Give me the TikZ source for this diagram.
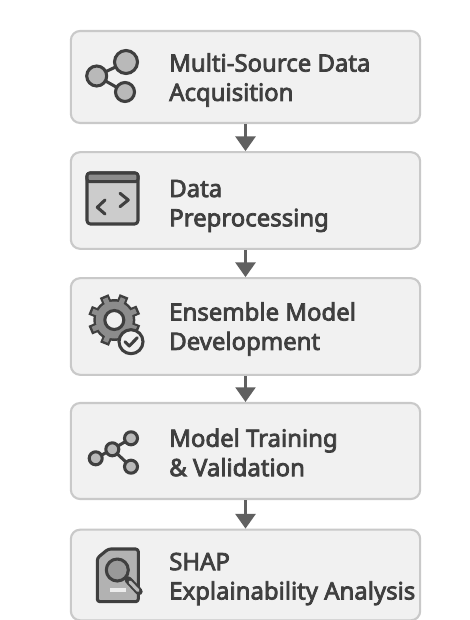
\documentclass[tikz,border=0pt]{standalone}
\usepackage{fontspec}
\setmainfont{Noto Sans}
\newfontfamily\lbl[FakeBold=3.2]{Noto Sans}
\usetikzlibrary{arrows.meta}
\definecolor{ink}{HTML}{3F3F3F}
\definecolor{boxfill}{HTML}{F1F1F1}
\definecolor{boxedge}{HTML}{C9C9C9}
\definecolor{arrowc}{HTML}{606060}
\tikzset{
  card/.style={draw=boxedge,fill=boxfill,line width=1.6pt,rounded corners=7pt,minimum width=262pt,inner sep=0pt},
  cardtext/.style={anchor=west,align=left,text=ink,font=\lbl\fontsize{17.95pt}{22pt}\selectfont,inner sep=0pt},
  flow/.style={draw=arrowc,line width=1.9pt,-{Triangle[length=11pt,width=15pt]}},
  ico/.style={draw=ink,line width=2.3pt,line join=round,line cap=round}
}
\begin{document}
\begin{tikzpicture}[x=0.75pt,y=-0.75pt]
\useasboundingbox[fill=white] (0,0) rectangle (469,620);
\node[card,minimum height=69pt] (c1) at (245.5,77) {};
\node[card,minimum height=72.5pt] (c2) at (245.5,200.5) {};
\node[card,minimum height=72.5pt] (c3) at (245.5,326.5) {};
\node[card,minimum height=72pt] (c4) at (245.5,451) {};
\node[card,minimum height=68pt] (c5) at (245.5,575) {};
\draw[flow] (c1.south) -- (c2.north);
\draw[flow] (c2.south) -- (c3.north);
\draw[flow] (c3.south) -- (c4.north);
\draw[flow] (c4.south) -- (c5.north);
\node[cardtext] (t1) at (169,80) {Multi-Source Data\\Acquisition};
\node[cardtext] (t2) at (169,206) {Data\\Preprocessing};
\node[cardtext] (t3) at (169,329) {Ensemble Model\\Development};
\node[cardtext] (t4) at (169,452.5) {Model Training\\\& Validation};
\node[cardtext] (t5) at (169,579) {SHAP\\Explainability Analysis};
% icon 1
\draw[ico] (96.7,76) -- (126,62) (96.7,76) -- (125,92);
\draw[ico,fill=gray!55] (126,62) circle (11.5);
\draw[ico,fill=gray!55] (96.7,76) circle (10);
\draw[ico,fill=gray!55] (125,92) circle (9.5);
% icon 2
\draw[ico,fill=gray!40,rounded corners=2.5pt] (87,173) rectangle (138,224);
\draw[ico,fill=gray!90,rounded corners=2pt] (87,181.7) -- (87,173) -- (138,173) -- (138,181.7) -- cycle;
\draw[ico] (105,200) -- (97.3,207.3) -- (105,214);
\draw[ico] (120,193.3) -- (128.3,200) -- (120,206.7);
% icon 3
\foreach \a in {0,45,...,315}{
  \draw[draw=ink,line width=7pt] (114.3,320) -- ++({\a+22}:-26);
}
\fill[ink] (114.3,320) circle (21);
\foreach \a in {0,45,...,315}{
  \draw[draw=gray!90,line width=3.8pt] (114.3,320) -- ++({\a+22}:-23.5);
}
\fill[gray!90] (114.3,320) circle (18.5);
\draw[ico,fill=gray!12] (114.3,320) circle (9.5);
\draw[ico,fill=boxfill] (131,341.7) circle (12);
\draw[ico] (125,341.7) -- (129.3,346) -- (137.3,337.7);
% icon 4
\draw[ico] (95.7,458.3) -- (112.3,449.3) -- (131,438.3) (112.3,449.3) -- (131,466.7);
\foreach \p in {(95.7,458.3),(112.3,449.3),(131,438.3),(131,466.7)}{
  \draw[ico,fill=gray!55] \p circle (6.5);
}
% icon 5
\draw[ico,fill=gray!60,rounded corners=2pt] (97.3,558) -- (108.3,549) -- (138.3,549) -- (138.3,601.7) -- (97.3,601.7) -- cycle;
\draw[ink,line width=5.5pt,line cap=round] (128.3,580) -- (139,591.5);
\draw[gray!55,line width=2.4pt,line cap=round] (130,582) -- (138,590.5);
\draw[ico,fill=gray!80] (117.3,570) circle (11);
\draw[white!85!gray,line width=2.6pt] (110,590) -- (125.7,590);
\end{tikzpicture}
\end{document}
